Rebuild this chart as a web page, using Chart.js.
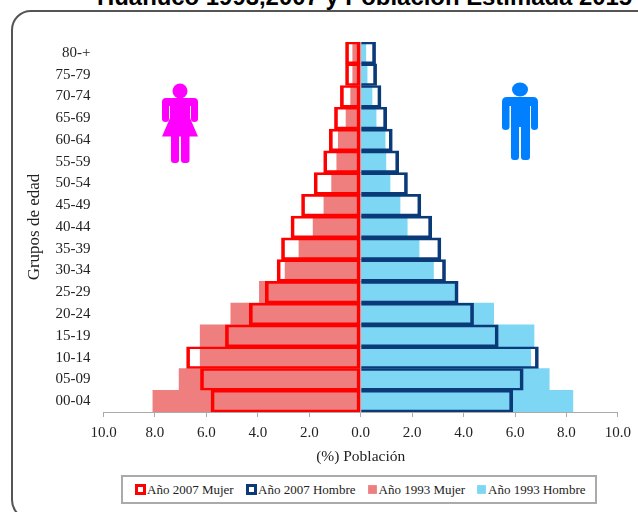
<!DOCTYPE html>
<html lang="es">
<head>
<meta charset="utf-8">
<title>Pirámide de población</title>
<script src="https://cdn.jsdelivr.net/npm/chart.js@4"></script>
<style>
  html, body { margin: 0; padding: 0; background: #fff; }
  #page { position: relative; width: 638px; height: 512px; overflow: hidden; background: #fff; }
  #frame { position: absolute; left: 11px; top: 10px; width: 660px; height: 510px; border: 2px solid #555; border-radius: 20px; box-sizing: border-box; }
  #chart-title { position: absolute; left: 97px; top: -17px; font: bold 23.9px "Liberation Sans", sans-serif; color: #000; white-space: nowrap; }
  #chart-wrap { position: absolute; left: 0; top: 0; width: 638px; height: 512px; }
  #chart-legend { position: absolute; left: 121px; top: 475px; width: 476px; height: 29px; box-sizing: border-box; border: 2px solid #aaa; background: #fff; display: flex; align-items: center; font: 13px "Liberation Serif", serif; color: #222; }
  .legend-item { position: absolute; display: flex; align-items: center; white-space: nowrap; }
  .legend-box { width: 11px; height: 11px; box-sizing: border-box; margin-right: 1px; }
  .figure { position: absolute; left: 0; top: 0; }
</style>
</head>
<body>
<div id="page">
  <div id="frame"></div>
  <div id="chart-title">Huánuco 1993,2007 y Población Estimada 2015</div>
  <div id="chart-wrap"><canvas id="chart-pyramid"></canvas></div>
  <svg class="figure" width="638" height="512">
    <!-- Mujer -->
    <g fill="#FF00FF">
      <circle cx="180" cy="91" r="7.5"/>
      <path d="M166 98 H194 Q198 98 198 102 V119 Q198 122 194.500 122 Q191 122 191 119 V106 H190 V118 L198 136.500 H189.500 V160 Q189.500 163 186.500 163 H184 Q181 163 181 160 V136.500 H179 V160 Q179 163 176 163 H174 Q171 163 171 160 V136.500 H162 L170 118 V106 H169 V119 Q169 122 165.500 122 Q162 122 162 119 V102 Q162 98 166 98 Z"/>
    </g>
    <!-- Hombre -->
    <g fill="#0080FF">
      <ellipse cx="520" cy="89.500" rx="8" ry="7"/>
      <path d="M507 97 H533 Q538 97 538 102 V127 Q538 130 534.500 130 Q531 130 531 127 V106 H530 V157 Q530 160 527 160 H524 Q521 160 521 157 V127 H519 V157 Q519 160 516 160 H514 Q511 160 511 157 V106 H509.500 V127 Q509.500 130 505.500 130 Q502 130 502 127 V102 Q502 97 507 97 Z"/>
    </g>
  </svg>
  <div id="chart-legend"></div>
</div>
<script>
// Age groups, top of the pyramid first
const groups = ["80-+", "75-79", "70-74", "65-69", "60-64", "55-59", "50-54", "45-49", "40-44", "35-39", "30-34", "25-29", "20-24", "15-19", "10-14", "05-09", "00-04"];

// Women are negative so they extend to the left
const mujer2007 = [-0.59, -0.59, -0.79, -1.02, -1.22, -1.44, -1.81, -2.30, -2.71, -3.08, -3.25, -3.71, -4.33, -5.26, -6.77, -6.23, -5.82];
const hombre2007 = [0.58, 0.62, 0.79, 1.01, 1.23, 1.48, 1.82, 2.34, 2.76, 3.12, 3.30, 3.79, 4.39, 5.35, 6.91, 6.32, 5.91];
const mujer1993 = [-0.31, -0.31, -0.39, -0.57, -0.87, -0.93, -1.13, -1.43, -1.85, -2.40, -2.94, -3.94, -5.05, -6.24, -6.24, -7.06, -8.08];
const hombre1993 = [0.20, 0.25, 0.44, 0.60, 0.95, 0.98, 1.14, 1.53, 1.81, 2.27, 2.83, 3.67, 5.17, 6.74, 6.61, 7.33, 8.25];

const xTicks = [-10, -8, -6, -4, -2, 0, 2, 4, 6, 8, 10];

const serif = "'Liberation Serif', serif";
const textColor = '#222';
const axisColor = '#aaa';

const ctx = document.getElementById('chart-pyramid');

const chart = new Chart(ctx, {
  type: 'bar',
  data: {
    labels: groups,
    // First dataset is painted last, so the 2007 outlines sit on top
    datasets: [
      {
        label: 'Año 2007 Mujer',
        data: mujer2007,
        backgroundColor: 'rgba(0,0,0,0)',
        borderColor: '#FF0000',
        borderWidth: { top: 2, bottom: 2, left: 3, right: 3 },
        borderSkipped: false
      },
      {
        label: 'Año 2007 Hombre',
        data: hombre2007,
        backgroundColor: 'rgba(0,0,0,0)',
        borderColor: '#0B3A78',
        borderWidth: { top: 2, bottom: 2, left: 0, right: 3 },
        borderSkipped: false
      },
      {
        label: 'Año 1993 Mujer',
        data: mujer1993,
        backgroundColor: '#EF7F7F',
        borderWidth: 0
      },
      {
        label: 'Año 1993 Hombre',
        data: hombre1993,
        backgroundColor: '#7DD6F3',
        borderWidth: 0
      }
    ]
  },
  options: {
    indexAxis: 'y',
    responsive: true,
    maintainAspectRatio: false,
    animation: false,
    layout: { padding: { left: 24, right: 20, top: 42, bottom: 46 } },
    datasets: { bar: { grouped: false, barPercentage: 1, categoryPercentage: 1 } },
    plugins: {
      legend: { display: false },
      tooltip: { enabled: false }
    },
    scales: {
      x: {
        min: -10,
        max: 10,
        afterBuildTicks: (axis) => { axis.ticks = xTicks.map(v => ({ value: v })); },
        afterFit: (axis) => { axis.height = 54; },
        border: { display: true, color: axisColor },
        grid: { drawOnChartArea: false, color: axisColor, tickLength: 5 },
        ticks: {
          color: textColor,
          font: { family: serif, size: 15 },
          padding: 7,
          maxRotation: 0,
          callback: (value) => Math.abs(value).toFixed(1)
        },
        title: {
          display: true,
          text: '(%) Población',
          color: textColor,
          font: { family: serif, size: 15.5 },
          padding: { top: 3, bottom: 0 }
        }
      },
      y: {
        afterFit: (axis) => { axis.width = 79.5; },
        border: { display: false },
        grid: { display: false, drawTicks: false },
        ticks: {
          color: textColor,
          font: { family: serif, size: 15 },
          padding: 13,
          autoSkip: false
        },
        title: {
          display: true,
          text: 'Grupos de edad',
          color: textColor,
          font: { family: serif, size: 17 },
          padding: { top: 0, bottom: 0 }
        }
      }
    }
  }
});

// Legend is a box of its own, built from the chart's datasets
const legendLeft = [12, 123, 243.5, 353];
const legendEl = document.getElementById('chart-legend');
chart.data.datasets.forEach((ds, i) => {
  const item = document.createElement('div');
  item.className = 'legend-item';
  item.style.left = legendLeft[i] + 'px';
  const box = document.createElement('span');
  box.className = 'legend-box';
  if (i < 2) {
    box.style.border = '3.5px solid ' + ds.borderColor;
    box.style.background = '#fff';
  } else {
    box.style.background = ds.backgroundColor;
    box.style.transform = 'scale(0.8)';
  }
  item.appendChild(box);
  item.appendChild(document.createTextNode(ds.label));
  legendEl.appendChild(item);
});
</script>
</body>
</html>
